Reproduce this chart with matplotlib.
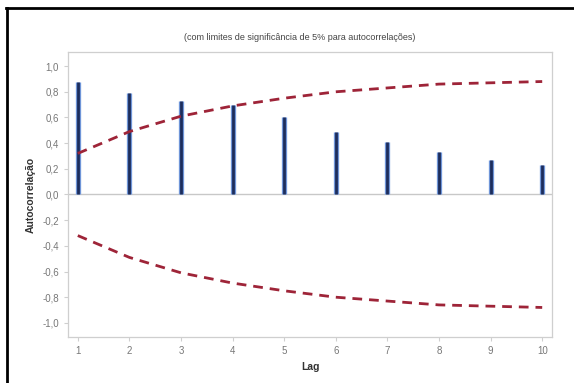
import numpy as np
import matplotlib
matplotlib.use('Agg')
import matplotlib.pyplot as plt
from matplotlib.ticker import FuncFormatter
from matplotlib.lines import Line2D

plt.rcParams['font.family'] = ['Liberation Sans', 'DejaVu Sans']

lags = [1, 2, 3, 4, 5, 6, 7, 8, 9, 10]
acf = [0.88, 0.79, 0.73, 0.70, 0.60, 0.49, 0.41, 0.33, 0.27, 0.23]
limit = [0.32, 0.49, 0.61, 0.69, 0.75, 0.80, 0.83, 0.86, 0.87, 0.88]
yticks = [-1.0, -0.8, -0.6, -0.4, -0.2, 0.0, 0.2, 0.4, 0.6, 0.8, 1.0]

subtitle = '(com limites de significância de 5% para autocorrelações)'

fig = plt.figure(figsize=(5.74, 3.83), dpi=100)
W, H = 574, 383
ax = fig.add_axes([68 / W, 1 - 337 / H, (552 - 68) / W, (337 - 52) / H])

# document frame (left and top edges visible)
fig.add_artist(Line2D([7 / W, 7 / W], [0, 1 - 8 / H], color='black', lw=2,
                      transform=fig.transFigure))
fig.add_artist(Line2D([6 / W, 1], [1 - 8 / H, 1 - 8 / H], color='black', lw=2,
                      transform=fig.transFigure))

ax.axhline(0, color='#c8c8c8', lw=1, zorder=1)
ax.vlines(lags, 0, acf, color='#6f95d8', lw=3.8, zorder=2)
ax.vlines(lags, 0, acf, color='#1d2d5c', lw=2.0, zorder=3)

lim = np.array(limit)
ax.plot(lags, lim, color='#9e2438', lw=2, ls=(0, (3.5, 2.5)), zorder=4)
ax.plot(lags, -lim, color='#9e2438', lw=2, ls=(0, (3.5, 2.5)), zorder=4)

ax.set_xlim(0.81, 10.19)
ax.set_ylim(-1.11, 1.11)
ax.set_xticks(lags)
ax.set_yticks(yticks)
ax.yaxis.set_major_formatter(FuncFormatter(lambda v, p: f'{v:.1f}'.replace('.', ',')))

for s in ax.spines.values():
    s.set_color('#cfcfcf')
    s.set_linewidth(0.9)
ax.tick_params(colors='#cfcfcf', labelcolor='#777777', labelsize=7, length=3, width=0.8)

ax.set_xlabel('Lag', fontsize=7.5, fontweight='bold', color='#333333', labelpad=4)
ax.set_ylabel('Autocorrelação', fontsize=7.5, fontweight='bold', color='#333333', labelpad=5)

fig.text(300 / W, 1 - 37 / H, subtitle, fontsize=6.5, color='#444444',
         ha='center', va='center')

fig.savefig('out.png', dpi=100)
